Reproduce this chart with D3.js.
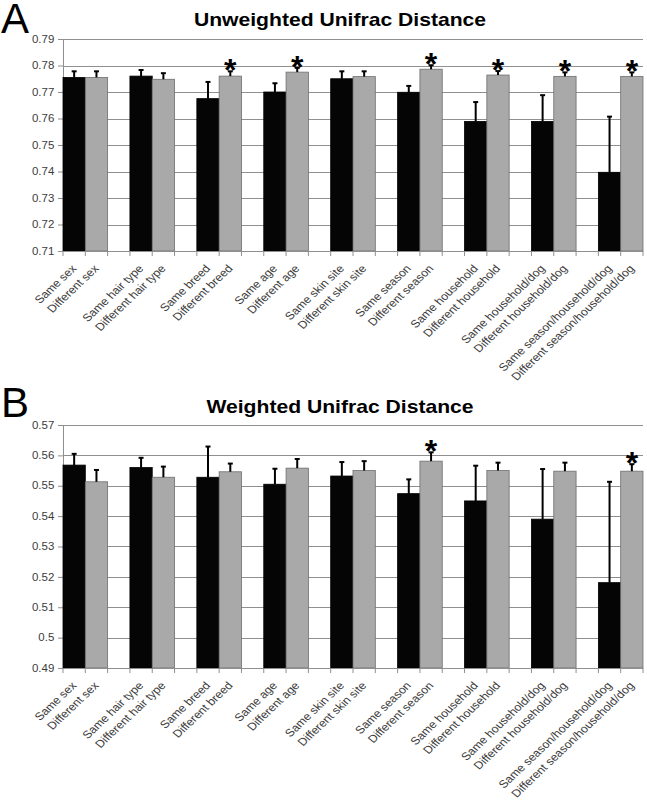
<!DOCTYPE html>
<html>
<head>
<meta charset="utf-8">
<script src="https://cdn.jsdelivr.net/npm/d3@7"></script>
<style>
  html, body { margin: 0; padding: 0; background: #fff; }
  svg { display: block; font-family: "Liberation Sans", Arial, sans-serif; }
</style>
</head>
<body>
<svg id="chart" width="647" height="805"></svg>
<script>
// ---- data ----
const categories = ["sex", "hair type", "breed", "age", "skin site", "season", "household", "household/dog", "season/household/dog"];
const sameLabels = ["Same sex", "Same hair type", "Same breed", "Same age", "Same skin site", "Same season", "Same household", "Same household/dog", "Same season/household/dog"];
const diffLabels = ["Different sex", "Different hair type", "Different breed", "Different age", "Different skin site", "Different season", "Different household", "Different household/dog", "Different season/household/dog"];

const unweightedSame    = [0.7755, 0.7760, 0.7675, 0.7700, 0.7750, 0.7699, 0.7589, 0.7589, 0.7397];
const unweightedSameErr = [0.0023, 0.0023, 0.0063, 0.0033, 0.0028, 0.0024, 0.0073, 0.0099, 0.0210];
const unweightedDiff    = [0.7755, 0.7748, 0.7760, 0.7775, 0.7758, 0.7786, 0.7764, 0.7759, 0.7759];
const unweightedDiffErr = [0.0023, 0.0023, 0.0018, 0.0016, 0.0020, 0.0015, 0.0015, 0.0015, 0.0015];
const unweightedSig     = [false, false, true, true, false, true, true, true, true];
const unweightedTicks   = [0.71, 0.72, 0.73, 0.74, 0.75, 0.76, 0.77, 0.78, 0.79];
const unweightedTickLabels = ["0.71", "0.72", "0.73", "0.74", "0.75", "0.76", "0.77", "0.78", "0.79"];

const weightedSame    = [0.5568, 0.5560, 0.5528, 0.5505, 0.5532, 0.5474, 0.5450, 0.5390, 0.5181];
const weightedSameErr = [0.0037, 0.0032, 0.0101, 0.0051, 0.0046, 0.0047, 0.0116, 0.0165, 0.0332];
const weightedDiff    = [0.5513, 0.5528, 0.5546, 0.5558, 0.5550, 0.5581, 0.5550, 0.5548, 0.5548];
const weightedDiffErr = [0.0039, 0.0035, 0.0027, 0.0030, 0.0031, 0.0029, 0.0026, 0.0028, 0.0023];
const weightedSig     = [false, false, false, false, false, true, false, false, true];
const weightedTicks   = [0.49, 0.50, 0.51, 0.52, 0.53, 0.54, 0.55, 0.56, 0.57];
const weightedTickLabels = ["0.49", "0.5", "0.51", "0.52", "0.53", "0.54", "0.55", "0.56", "0.57"];

const panels = [
  { letter: "A", title: "Unweighted Unifrac Distance", same: unweightedSame, sameErr: unweightedSameErr,
    diff: unweightedDiff, diffErr: unweightedDiffErr, sig: unweightedSig, ticks: unweightedTicks, tickLabels: unweightedTickLabels,
    top: 39, bottom: 251, letterY: 33, titleY: 26 },
  { letter: "B", title: "Weighted Unifrac Distance", same: weightedSame, sameErr: weightedSameErr,
    diff: weightedDiff, diffErr: weightedDiffErr, sig: weightedSig, ticks: weightedTicks, tickLabels: weightedTickLabels,
    top: 425, bottom: 668, letterY: 417, titleY: 413 }
];

const svg = d3.select("#chart");
const left = 63, right = 643;
const sx = 1.15; // horizontal stretch of the source figure's text
const gridColor = "#8f8f8f";
const blackFill = "#050505", grayFill = "#a9a9a9";
const textGray = "#3c3c3c";

panels.forEach(p => {
  const g = svg.append("g");
  const y = d3.scaleLinear().domain([p.ticks[0], p.ticks[p.ticks.length - 1]]).range([p.bottom, p.top]);
  const x = d3.scaleBand().domain(categories).range([left, right]).paddingInner(1 / 3).paddingOuter(0);
  const xs = d3.scaleBand().domain(["same", "diff"]).range([0, x.bandwidth()]);

  // letter & title
  g.append("text").attr("x", 1).attr("y", p.letterY).attr("font-size", 42).attr("fill", "#000").text(p.letter);
  g.append("text").attr("transform", `translate(340,${p.titleY}) scale(1.13,1)`).attr("text-anchor", "middle")
    .attr("font-size", 18.7).attr("font-weight", "bold").attr("fill", "#000").text(p.title);

  // gridlines
  g.append("g").selectAll("line").data(p.ticks.slice(1)).join("line")
    .attr("x1", left).attr("x2", right).attr("y1", d => Math.round(y(d)) + 0.5).attr("y2", d => Math.round(y(d)) + 0.5)
    .attr("stroke", gridColor).attr("stroke-width", 1.2);

  // y axis
  const yAxis = d3.axisLeft(y).tickValues(p.ticks).tickFormat((d, i) => p.tickLabels[i]).tickSize(5).tickPadding(3);
  const ya = g.append("g").attr("transform", `translate(${left},0)`).call(yAxis);
  ya.select(".domain").attr("stroke", gridColor);
  ya.selectAll(".tick line").attr("stroke", gridColor);
  ya.selectAll(".tick text").attr("x", 0).attr("transform", `translate(-8.7,0) scale(${sx},1)`)
    .attr("font-size", 10).attr("fill", textGray).attr("font-family", "'Liberation Sans', Arial, sans-serif");

  // bars
  const rows = categories.map((c, i) => ({ c, i }));
  const groups = g.append("g").selectAll("g").data(rows).join("g").attr("transform", d => `translate(${x(d.c)},0)`);

  groups.append("rect").attr("x", xs("same")).attr("width", xs.bandwidth())
    .attr("y", d => y(p.same[d.i])).attr("height", d => p.bottom - y(p.same[d.i]))
    .attr("fill", blackFill).attr("stroke", "#000").attr("stroke-width", 0.8);
  groups.append("rect").attr("x", xs("diff")).attr("width", xs.bandwidth())
    .attr("y", d => y(p.diff[d.i])).attr("height", d => p.bottom - y(p.diff[d.i]))
    .attr("fill", grayFill).attr("stroke", "#6e6e6e").attr("stroke-width", 0.8);

  // error bars
  const errs = [];
  rows.forEach(d => {
    errs.push({ c: d.c, s: "same", v: p.same[d.i], e: p.sameErr[d.i], sig: false });
    errs.push({ c: d.c, s: "diff", v: p.diff[d.i], e: p.diffErr[d.i], sig: p.sig[d.i] });
  });
  const eg = g.append("g").selectAll("g").data(errs).join("g")
    .attr("transform", d => `translate(${x(d.c) + xs(d.s) + xs.bandwidth() / 2},0)`);
  eg.append("line").attr("x1", 0).attr("x2", 0).attr("y1", d => y(d.v)).attr("y2", d => y(d.v + d.e))
    .attr("stroke", "#000").attr("stroke-width", 2);
  eg.append("line").attr("x1", -2.5).attr("x2", 2.5).attr("y1", d => y(d.v + d.e)).attr("y2", d => y(d.v + d.e))
    .attr("stroke", "#000").attr("stroke-width", 2);
  eg.filter(d => d.sig).append("text").attr("x", 0).attr("y", d => y(d.v + d.e) + 10)
    .attr("text-anchor", "middle").attr("font-size", 32).attr("font-weight", "bold").attr("fill", "#000").text("*");

  // x axis
  const bounds = [];
  categories.forEach(c => { bounds.push(x(c)); bounds.push(x(c) + xs.bandwidth()); bounds.push(x(c) + x.bandwidth()); });
  g.append("line").attr("x1", left).attr("x2", right).attr("y1", p.bottom + 0.5).attr("y2", p.bottom + 0.5)
    .attr("stroke", gridColor).attr("stroke-width", 1.2);
  g.append("g").selectAll("line").data(bounds).join("line")
    .attr("x1", d => d).attr("x2", d => d).attr("y1", p.bottom).attr("y2", p.bottom + 5)
    .attr("stroke", gridColor).attr("stroke-width", 1);

  // category labels
  const labels = [];
  rows.forEach(d => {
    labels.push({ t: sameLabels[d.i], cx: x(d.c) + xs("same") + xs.bandwidth() / 2 });
    labels.push({ t: diffLabels[d.i], cx: x(d.c) + xs("diff") + xs.bandwidth() / 2 });
  });
  g.append("g").selectAll("text").data(labels).join("text")
    .attr("transform", d => `translate(${d.cx + 3},${p.bottom + 18}) scale(${sx},1) rotate(-47.5)`)
    .attr("text-anchor", "end").attr("font-size", 10.8).attr("fill", textGray).text(d => d.t);
});
</script>
</body>
</html>
